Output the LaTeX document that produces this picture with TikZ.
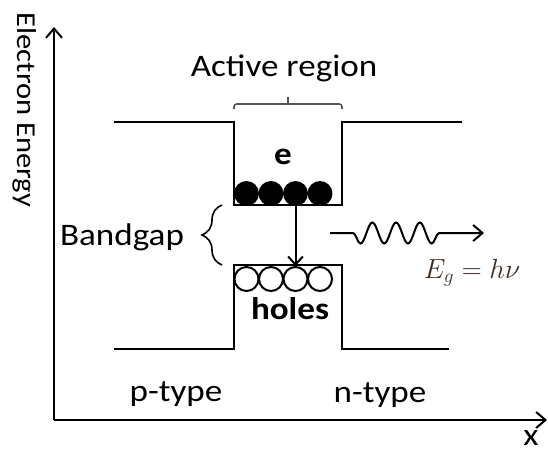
\documentclass[tikz,border=0pt]{standalone}
\usepackage{fontspec}
\setmainfont[FakeStretch=1.12]{Carlito}
\usepackage{tikz}
\usetikzlibrary{arrows.meta,decorations.pathreplacing,decorations.pathmorphing}
\definecolor{bracegray}{RGB}{85,85,85}
\definecolor{egbrown}{RGB}{60,45,35}
\newcommand{\lblfont}{\fontsize{23.5}{28}\selectfont}

\begin{document}
\begin{tikzpicture}[x=0.75pt,y=-0.75pt,
  lbl/.style={font=\lblfont,anchor=base,inner sep=0pt},
  boldlbl/.style={font=\lblfont\bfseries,anchor=base,inner sep=0pt},
  axis/.style={line width=1.5pt,-{Straight Barb[length=7pt,width=12pt]}},
  band/.style={line width=1.6pt},
  electron/.style={circle,fill=black,draw=black,line width=1.2pt,minimum size=17.5pt,inner sep=0pt},
  hole/.style={circle,draw=black,line width=1.5pt,minimum size=18pt,inner sep=0pt},
  transition/.style={line width=1.5pt,-{Straight Barb[length=6pt,width=11pt]}},
  bracket/.style={bracegray,line width=1.2pt},
  gapbrace/.style={line width=1.2pt,decorate,decoration={brace,amplitude=15pt,aspect=0.5}},
  photon/.style={line width=1.5pt,-{Straight Barb[length=7pt,width=12pt]},decorate,
    decoration={snake,mirror,segment length=17.8pt,amplitude=7.9pt,pre length=17.3pt,post length=27pt}}]
  \useasboundingbox (0,0) rectangle (548,452);

  % ---- axes ----
  \coordinate (origin) at (54,420);
  \coordinate (ytop) at (54,27);
  \coordinate (xend) at (547,420);
  \draw[axis] (origin) -- (ytop);
  \draw[axis] (origin) -- (xend);
  \node[font=\fontsize{20.5}{24}\selectfont,inner sep=0pt,rotate=-90] (ylabel) at (25,110) {Electron Energy};
  \node[lbl] (xlabel) at (531,445) {x};

  % ---- bands ----
  \def\xl{234}
  \def\xr{342}
  \draw[band] (114,122) -- (\xl,122) -- (\xl,205) -- (\xr,205) -- (\xr,122) -- (462,122);
  \draw[band] (114,349) -- (\xl,349) -- (\xl,265) -- (\xr,265) -- (\xr,349) -- (449,349);

  % ---- carriers ----
  \foreach \i/\cx in {1/246.5,2/271,3/295.5,4/320}{
    \node[electron] (e\i) at (\cx,193.5) {};
    \node[hole] (h\i) at (\cx,279) {};
  }
  \draw[transition] (e3.south) -- (h3.north);
  \node[boldlbl] (elabel) at (283,165) {e};
  \node[boldlbl] (holes) at (290,319) {holes};

  % ---- active region ----
  \draw[bracket,rounded corners=2pt] (\xl,109) |- (\xr,104) -- (\xr,109);
  \draw[bracket] (288,104) -- (288,97);
  \node[lbl] (active) at (284,77) {Active region};

  % ---- bandgap ----
  \draw[gapbrace] (222,265) -- (222,205);
  \node[lbl] (bandgap) at (122,245) {Bandgap};

  % ---- photon ----
  \coordinate (ph0) at (330,233);
  \coordinate (ph1) at (484,233);
  \draw[photon] (ph0) -- (ph1);
  \node[font=\fontsize{19.5}{23}\selectfont,text=egbrown,anchor=base,inner sep=0pt] (eg) at (472,278) {$E_g = h\nu$};

  % ---- doping ----
  \node[lbl] (ptype) at (176,401) {p-type};
  \node[lbl] (ntype) at (380,402) {n-type};
\end{tikzpicture}
\end{document}
